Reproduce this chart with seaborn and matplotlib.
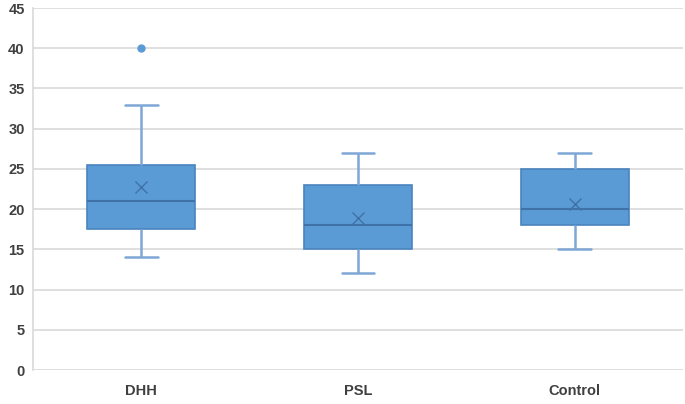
import pandas as pd
import seaborn as sns
import matplotlib.pyplot as plt

# values (quartiles, whiskers, means, outlier)
dhh = [14, 14.5, 17.5, 17.5, 21, 22, 25.5, 33, 40]
psl = [12, 14, 15, 16, 18, 20, 23, 25, 27]
control = [15, 16, 18, 18.5, 20, 20.5, 25, 25.5, 27]
groups = ["DHH", "PSL", "Control"]
yticks = list(range(0, 50, 5))

df = pd.DataFrame({
    "group": ["DHH"] * len(dhh) + ["PSL"] * len(psl) + ["Control"] * len(control),
    "value": dhh + psl + control,
})

sns.set_style("white")
plt.rcParams["font.family"] = ["Liberation Sans", "DejaVu Sans"]

fig = plt.figure(figsize=(6.85, 4.04), dpi=100)
ax = fig.add_axes([33 / 685, 1 - 370 / 404, 650 / 685, 362 / 404])

box_col = "#5B9BD5"
edge_col = "#4A84BE"
whisk_col = "#7FA7D6"

sns.boxplot(data=df, x="group", y="value", order=groups, ax=ax,
            width=0.5, whis=1.5, showmeans=True, color=box_col,
            capwidths=0.15,
            boxprops=dict(facecolor=box_col, edgecolor=edge_col, linewidth=1.2),
            medianprops=dict(color="#3F72A8", linewidth=1.5),
            whiskerprops=dict(color=whisk_col, linewidth=1.8),
            capprops=dict(color=whisk_col, linewidth=1.8),
            flierprops=dict(marker="o", markerfacecolor=box_col,
                            markeredgecolor=box_col, markersize=5),
            meanprops=dict(marker="x", markeredgecolor="#3F72A8",
                           markersize=9, markeredgewidth=1.0))

ax.set_ylim(0, 45)
ax.set_xlim(-0.5, 2.5)
ax.set_yticks(yticks)
ax.set_yticklabels([str(t) for t in yticks])
ax.yaxis.grid(True, color="#D9D9D9", linewidth=1.2)
ax.set_axisbelow(True)
ax.set_xlabel("")
ax.set_ylabel("")
for side in ["top", "right", "bottom"]:
    ax.spines[side].set_visible(False)
ax.spines["left"].set_color("#D9D9D9")
ax.spines["left"].set_linewidth(1.2)
ax.tick_params(axis="both", length=0, labelsize=10.5, labelcolor="#404040", pad=6)
for lab in ax.get_xticklabels() + ax.get_yticklabels():
    lab.set_fontweight("bold")
ax.tick_params(axis="x", pad=10)

fig.savefig("out.png", dpi=100)
